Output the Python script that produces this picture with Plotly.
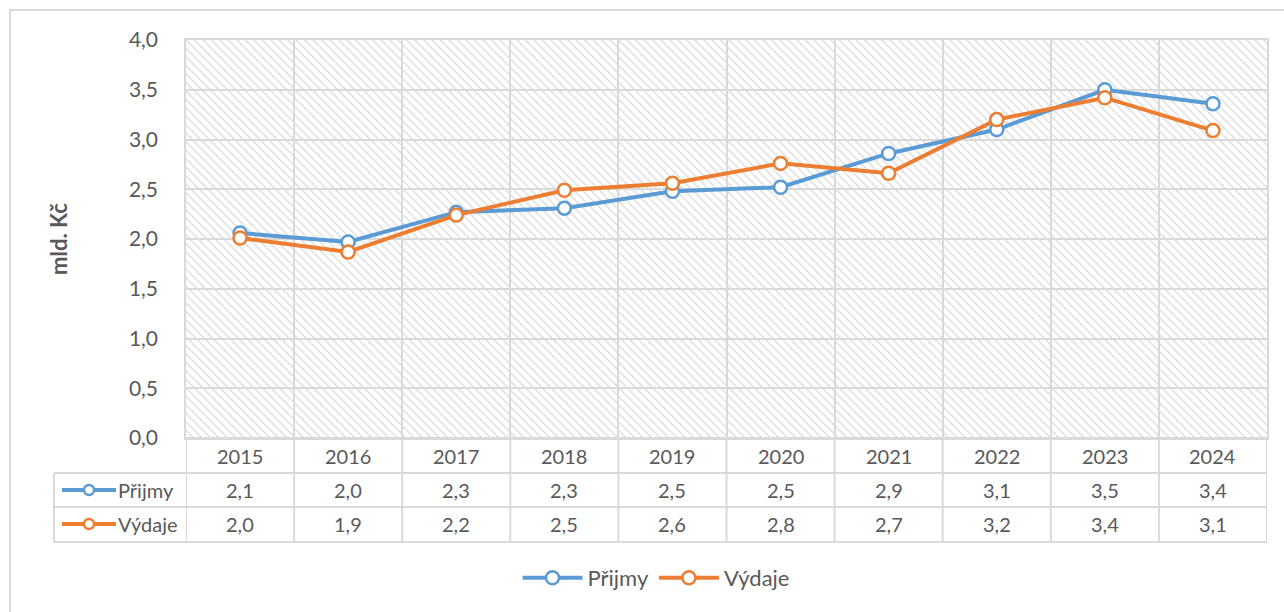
import plotly.graph_objects as go

# ---- data -------------------------------------------------------------
years = ["2015", "2016", "2017", "2018", "2019", "2020", "2021", "2022", "2023", "2024"]
prijmy = [2.06, 1.97, 2.27, 2.31, 2.48, 2.52, 2.86, 3.10, 3.50, 3.36]
vydaje = [2.01, 1.87, 2.24, 2.49, 2.56, 2.76, 2.66, 3.20, 3.42, 3.09]
series_names = ["Přijmy", "Výdaje"]
y_tick_values = [0.0, 0.5, 1.0, 1.5, 2.0, 2.5, 3.0, 3.5, 4.0]
y_axis_title = "mld. Kč"

# ---- styling ----------------------------------------------------------
W, H = 1284, 612
PLOT_L, PLOT_R, PLOT_T, PLOT_B = 186, 1267, 40, 438
BLUE, ORANGE = "#5B9BD5", "#ED7D31"
TEXT = "#595959"
GRID = "#D9D9D9"
FONT = "Lato"
FS = 20

series = [(series_names[0], prijmy, BLUE), (series_names[1], vydaje, ORANGE)]


def px_x(px):
    """Horizontal pixel -> paper coordinate."""
    return (px - PLOT_L) / (PLOT_R - PLOT_L)


def px_y(py):
    """Vertical pixel -> paper coordinate."""
    return (PLOT_B - py) / (PLOT_B - PLOT_T)


def fmt(v):
    return f"{v:.1f}".replace(".", ",")


def label(x, xref, y, text, xanchor="center", size=FS, **kw):
    return dict(x=x, xref=xref, y=y, yref="paper", text=text, showarrow=False,
                xanchor=xanchor, yanchor="middle",
                font=dict(family=FONT, size=size, color=TEXT), **kw)


fig = go.Figure()

# hatched plot-area background
fig.add_trace(go.Bar(
    x=years, y=[max(y_tick_values)] * len(years), width=1,
    marker=dict(color="#DADADA", line=dict(width=0),
                pattern=dict(shape="\\", size=6, solidity=0.22, fillmode="replace")),
    hoverinfo="skip", showlegend=False,
))

for name, vals, col in series:
    fig.add_trace(go.Scatter(
        x=years, y=vals, name=name, mode="lines+markers",
        line=dict(color=col, width=4),
        marker=dict(size=13, color="white", line=dict(color=col, width=2.5)),
    ))

shapes = []
annotations = []

# outer chart frame
shapes.append(dict(type="rect", xref="paper", yref="paper",
                   x0=px_x(10), x1=px_x(1300), y0=px_y(640), y1=px_y(10),
                   line=dict(color=GRID, width=2), fillcolor="rgba(0,0,0,0)", layer="below"))

# data table below the plot
row_lines = [PLOT_B, 473, 507, 542]
for i, py in enumerate(row_lines):
    x0 = PLOT_L if i == 0 else 54
    shapes.append(dict(type="line", xref="paper", yref="paper",
                       x0=px_x(x0), x1=1, y0=px_y(py), y1=px_y(py),
                       line=dict(color=GRID, width=2)))
for k in range(len(years) + 1):
    shapes.append(dict(type="line", xref="x", yref="paper",
                       x0=k - 0.5, x1=k - 0.5, y0=0, y1=px_y(542),
                       line=dict(color=GRID, width=2)))
shapes.append(dict(type="line", xref="paper", yref="paper",
                   x0=px_x(54), x1=px_x(54), y0=px_y(473), y1=px_y(542),
                   line=dict(color=GRID, width=2)))

row_centers = [490, 524]
for i, yr in enumerate(years):
    annotations.append(label(i, "x", px_y(456), yr))
for (name, vals, col), pyc in zip(series, row_centers):
    for i, v in enumerate(vals):
        annotations.append(label(i, "x", px_y(pyc), fmt(v)))
    # legend key inside the table
    shapes.append(dict(type="line", xref="paper", yref="paper",
                       x0=px_x(62), x1=px_x(116), y0=px_y(pyc), y1=px_y(pyc),
                       line=dict(color=col, width=4)))
    shapes.append(dict(type="circle", xref="paper", yref="paper",
                       xsizemode="pixel", ysizemode="pixel",
                       xanchor=px_x(89), yanchor=px_y(pyc),
                       x0=-5, x1=5, y0=-5, y1=5,
                       fillcolor="white", line=dict(color=col, width=2.5)))
    annotations.append(label(px_x(116), "paper", px_y(pyc), name, xanchor="left"))

# y-axis title
annotations.append(label(px_x(58), "paper", 0.5, f"<b>{y_axis_title}</b>",
                         size=22, textangle=-90))

fig.update_layout(
    width=W, height=H,
    margin=dict(l=PLOT_L, r=W - PLOT_R, t=PLOT_T, b=H - PLOT_B, pad=0),
    paper_bgcolor="white", plot_bgcolor="white",
    separators=", ",
    font=dict(family=FONT, size=FS, color=TEXT),
    showlegend=True,
    legend=dict(orientation="h", x=px_x(656), xanchor="center",
                y=px_y(578), yanchor="middle",
                font=dict(family=FONT, size=22, color=TEXT),
                itemwidth=60, tracegroupgap=0),
    shapes=shapes, annotations=annotations,
    bargap=0,
)
fig.update_xaxes(type="category", range=[-0.5, len(years) - 0.5],
                 tickson="boundaries", showgrid=True, gridcolor=GRID, gridwidth=1.5,
                 showticklabels=False, ticks="", showline=True, mirror=True,
                 linecolor=GRID, linewidth=1.5, zeroline=False, fixedrange=True)
fig.update_yaxes(range=[0, 4], tickvals=y_tick_values, tickformat=".1f",
                 showgrid=True, gridcolor=GRID, gridwidth=1.5, zeroline=False,
                 showline=True, mirror=True, linecolor=GRID, linewidth=1.5,
                 ticks="", ticklabelstandoff=22,
                 tickfont=dict(family=FONT, size=21, color=TEXT), fixedrange=True)

fig.write_html("out.html")
